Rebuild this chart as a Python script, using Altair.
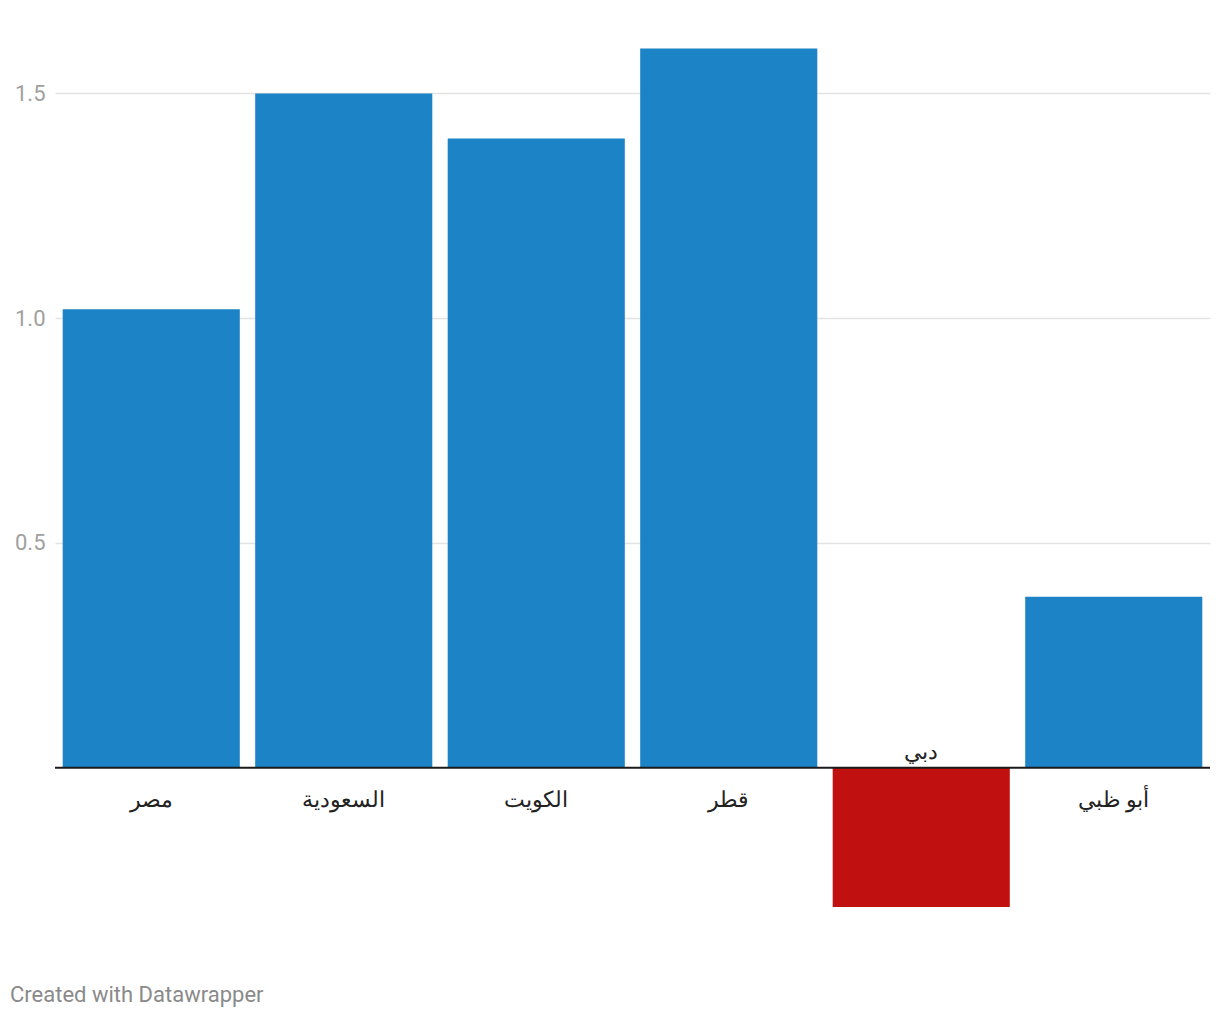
import altair as alt
import pandas as pd

categories = ["مصر", "السعودية", "الكويت", "قطر", "دبي", "أبو ظبي"]
values = [1.02, 1.5, 1.4, 1.6, -0.31, 0.38]
tick_values = [0.5, 1.0, 1.5]
footer_text = "Created with Datawrapper"

df = pd.DataFrame({"cat": categories, "val": values})
df["sign"] = ["neg" if v < 0 else "pos" for v in values]
df["zero"] = 0.0

W, H = 1155, 899
FONT = "Roboto"

x = alt.X("cat:N", sort=categories, axis=None,
          scale=alt.Scale(paddingInner=0.08, paddingOuter=0.04))
yscale = alt.Scale(domain=[-0.35, 1.65], nice=False, zero=False)

base = alt.Chart(df)

bars = base.mark_bar().encode(
    x=x,
    y=alt.Y("val:Q", scale=yscale,
            axis=alt.Axis(values=tick_values, format=".1f", title=None,
                          domain=False, ticks=False, labelFontSize=22,
                          labelColor="#a0a0a0", labelFont=FONT, labelPadding=10,
                          gridColor="#e3e3e3", gridWidth=1.5)),
    y2=alt.Y2("zero:Q"),
    color=alt.Color("sign:N", scale=alt.Scale(domain=["pos", "neg"],
                                              range=["#1b83c6", "#c0100f"]),
                    legend=None),
)

zero_line = alt.Chart(pd.DataFrame({"zero": [0.0]})).mark_rule(
    color="#1a1a1a", strokeWidth=2
).encode(y=alt.Y("zero:Q", scale=yscale), x=alt.value(0), x2=alt.value(W))

labels_pos = base.transform_filter(alt.datum.val >= 0).mark_text(
    baseline="middle", dy=32, fontSize=22, font=FONT, color="#222222"
).encode(x=x, y=alt.Y("zero:Q", scale=yscale), text="cat:N")

labels_neg = base.transform_filter(alt.datum.val < 0).mark_text(
    baseline="middle", dy=-16, fontSize=22, font=FONT, color="#222222"
).encode(x=x, y=alt.Y("zero:Q", scale=yscale), text="cat:N")

footer = alt.Chart(pd.DataFrame({"t": [footer_text]})).mark_text(
    align="left", baseline="middle", fontSize=22, font=FONT, color="#8a8a8a"
).encode(x=alt.value(-45), y=alt.value(969), text="t:N")

chart = alt.layer(bars, zero_line, labels_pos, labels_neg, footer).properties(
    width=W, height=H,
    background="white",
    autosize=alt.AutoSizeParams(type="none"),
    padding={"left": 47, "top": 18, "right": 2, "bottom": 84},
).configure_view(strokeWidth=0, stroke=None)

chart.save("out.html", embed_options={"renderer": "svg", "actions": False})
